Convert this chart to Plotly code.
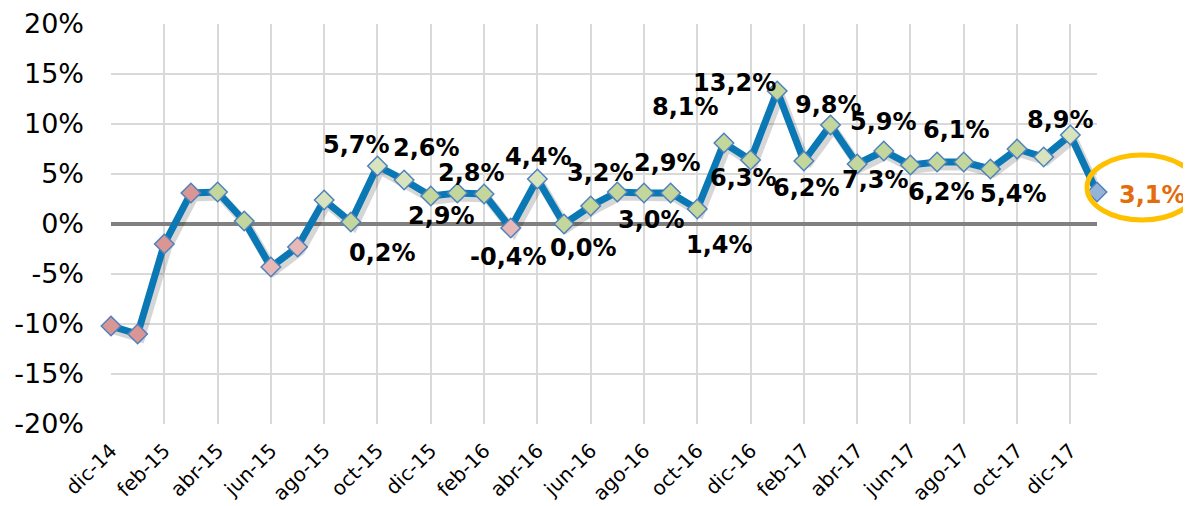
import plotly.graph_objects as go

months = ["dic-14", "ene-15", "feb-15", "mar-15", "abr-15", "may-15", "jun-15", "jul-15",
          "ago-15", "sep-15", "oct-15", "nov-15", "dic-15", "ene-16", "feb-16", "mar-16",
          "abr-16", "may-16", "jun-16", "jul-16", "ago-16", "sep-16", "oct-16", "nov-16",
          "dic-16", "ene-17", "feb-17", "mar-17", "abr-17", "may-17", "jun-17", "jul-17",
          "ago-17", "sep-17", "oct-17", "nov-17", "dic-17", "ene-18"]
values = [-10.2, -11.0, -2.0, 3.1, 3.2, 0.3, -4.3, -2.3,
          2.4, 0.2, 5.8, 4.4, 2.8, 3.1, 3.0, -0.4,
          4.5, 0.0, 1.8, 3.2, 3.1, 3.1, 1.5, 8.1,
          6.4, 13.3, 6.3, 9.9, 6.0, 7.3, 5.9, 6.2,
          6.2, 5.5, 7.5, 6.7, 8.9, 3.2]
# marker colour class per month
marker_class = ["r", "r", "r", "r", "g", "g", "p", "p",
                "l", "g", "l", "l", "g", "g", "g", "p",
                "l", "g", "g", "g", "g", "g", "g", "g",
                "g", "g", "g", "g", "g", "g", "g", "g",
                "g", "g", "g", "l", "l", "b"]
tick_months = months[::2][:19]
y_tick_vals = [-20, -15, -10, -5, 0, 5, 10, 15, 20]
y_tick_text = ["-20%", "-15%", "-10%", "-5%", "0%", "5%", "10%", "15%", "20%"]

# data labels: (month, text)
label_months = ["sep-15", "oct-15", "nov-15", "dic-15", "ene-16", "mar-16", "abr-16",
                "may-16", "jul-16", "ago-16", "sep-16", "oct-16", "nov-16", "dic-16",
                "ene-17", "feb-17", "mar-17", "abr-17", "may-17", "jul-17", "ago-17",
                "sep-17", "dic-17", "ene-18"]
label_texts = ["0,2%", "5,7%", "2,6%", "2,9%", "2,8%", "-0,4%", "4,4%",
               "0,0%", "3,2%", "2,9%", "3,0%", "1,4%", "8,1%", "6,3%",
               "13,2%", "6,2%", "9,8%", "5,9%", "7,3%", "6,2%", "6,1%",
               "5,4%", "8,9%", "3,1%"]
# pixel offsets of each label from its point (style/placement)
label_dx = [32, -21, 22, 11, 14, -2, 1, 19, -17, 24, -19, 22, -38, -7,
            -43, 3, -2, 26, -8, 4, -7, 23, -10, 55]
label_dy = [-31, 21, 32, -20, 20, -29, 22, -24, 19, 30, -27, -36, 36, -18,
            8, -27, 20, 42, -29, -30, 32, -25, 15, -3]

color_map = {"r": "#d99694", "p": "#e6b9b8", "g": "#c3d69b", "l": "#d7e4bd", "b": "#95b3d7"}
marker_colors = [color_map[c] for c in marker_class]

W, H = 1183, 498
ML, MR, MT, MB = 103, 94, 16, 82
plot_w = W - ML - MR
plot_h = H - MT - MB
ymin, ymax = -20, 20
xmax = len(months) - 1
# shadow offset (pixels) converted to axis units
sdx = 3 * xmax / plot_w
sdy = 4 * (ymax - ymin) / plot_h

fig = go.Figure()
# invisible trace on base axes so the grid/ticks render
fig.add_trace(go.Scatter(x=months, y=values, mode="none", showlegend=False,
                         hoverinfo="skip", xaxis="x", yaxis="y"))
# soft shadow
fig.add_trace(go.Scatter(
    x=months, y=values, mode="lines", xaxis="x2", yaxis="y2",
    line=dict(color="rgba(0,0,0,0.16)", width=9),
    showlegend=False, hoverinfo="skip"))
# main series
fig.add_trace(go.Scatter(
    x=months, y=values, mode="lines+markers", xaxis="x3", yaxis="y3",
    line=dict(color="#0a78b4", width=7),
    marker=dict(symbol="diamond", size=15, color=marker_colors,
                line=dict(color="#4f81bd", width=1.5)),
    cliponaxis=False, showlegend=False, hoverinfo="skip"))

val_by_month = dict(zip(months, values))
for m, t, dx, dy in zip(label_months, label_texts, label_dx, label_dy):
    last = (m == months[-1])
    fig.add_annotation(
        x=m, y=val_by_month[m], xref="x", yref="y", text=t, showarrow=False,
        xshift=dx, yshift=dy,
        font=dict(family="DejaVu Sans", size=24,
                  color="#e46c0a" if last else "#000000", weight="bold"))

fig.add_shape(
    type="circle", xref="paper", yref="paper",
    xsizemode="pixel", ysizemode="pixel",
    xanchor=1.0, yanchor=(values[-1] - ymin) / (ymax - ymin),
    x0=-10, x1=100, y0=-28, y1=37,
    line=dict(color="#ffc000", width=5), fillcolor="rgba(0,0,0,0)")

hidden_x = dict(type="category", categoryorder="array", categoryarray=months,
                overlaying="x", visible=False, showgrid=False, zeroline=False)
hidden_y = dict(overlaying="y", visible=False, showgrid=False, zeroline=False)

fig.update_layout(
    width=W, height=H,
    margin=dict(l=ML, r=MR, t=MT, b=MB, autoexpand=False),
    paper_bgcolor="white", plot_bgcolor="white",
    xaxis=dict(type="category", categoryorder="array", categoryarray=months,
               range=[0, xmax], automargin=False,
               tickmode="array", tickvals=tick_months, ticktext=tick_months,
               tickangle=-45, showgrid=True, gridcolor="#d9d9d9", gridwidth=1.5,
               tickfont=dict(family="DejaVu Sans", size=20, color="#000000"),
               ticklabelstandoff=10, ticklabeloverflow="allow",
               ticks="", showline=False, zeroline=False),
    yaxis=dict(range=[ymin, ymax], automargin=False,
               tickmode="array", tickvals=y_tick_vals, ticktext=y_tick_text,
               showgrid=True, gridcolor="#d9d9d9", gridwidth=1.5,
               zeroline=True, zerolinecolor="#808080", zerolinewidth=4,
               tickfont=dict(family="DejaVu Sans", size=27, color="#000000"),
               ticklabelstandoff=26, ticklabeloverflow="allow",
               ticks="", showline=False),
    xaxis2=dict(hidden_x, range=[-sdx, xmax - sdx]),
    yaxis2=dict(hidden_y, range=[ymin + sdy, ymax + sdy]),
    xaxis3=dict(hidden_x, range=[0, xmax]),
    yaxis3=dict(hidden_y, range=[ymin, ymax]),
)

fig.write_html("out.html")
